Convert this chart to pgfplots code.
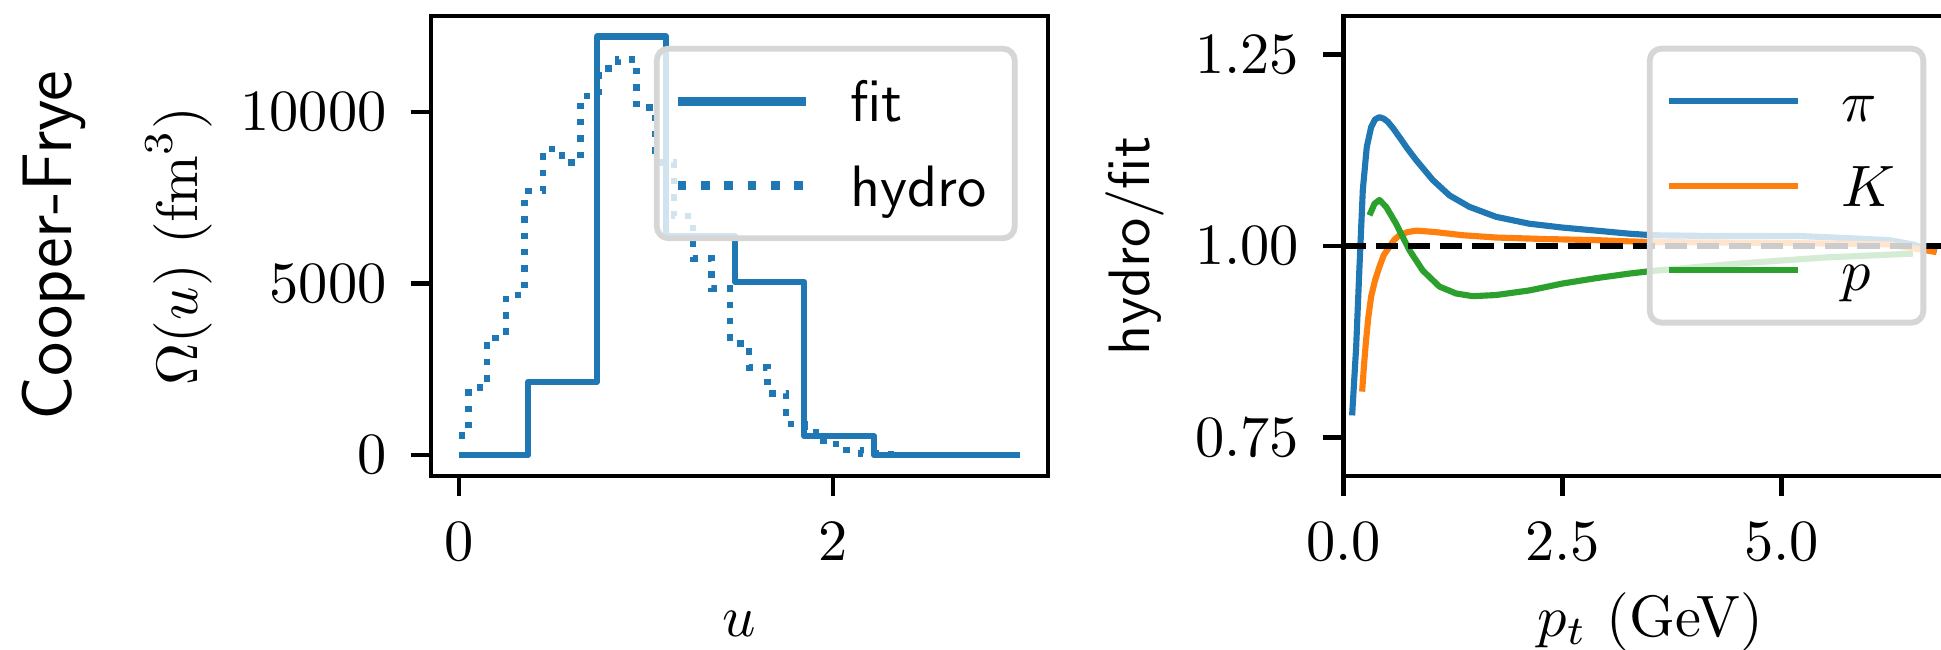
\documentclass[border=0pt]{standalone}
\usepackage{pgfplots}
\pgfplotsset{compat=1.18}
\definecolor{tabblue}{HTML}{1F77B4}
\definecolor{taborange}{HTML}{FF7F0E}
\definecolor{tabgreen}{HTML}{2CA02C}
\definecolor{legframe}{RGB}{214,214,214}

\pgfplotsset{
  every axis/.append style={
    scale only axis,
    axis line style={line width=0.8pt},
    every tick/.style={black, line width=0.8pt},
    tick align=outside,
    major tick length=3.5pt,
    tick pos=left,
    minor tick num=0,
    xticklabel style={yshift=-1pt},
    yticklabel style={xshift=-0.6pt},
    legend cell align=left,
    legend style={
      font=\sffamily,
      draw=legframe, line width=1pt, rounded corners=2pt,
      fill=white, fill opacity=0.8, text opacity=1,
      at={(1,1)}, anchor=north east, xshift=-5.2pt, yshift=-5.1pt,
      inner xsep=2.8pt, inner ysep=2.5pt,
      row sep=1.45pt,
      nodes={inner sep=2pt, text height=8pt, text depth=1pt},
    },
  }
}

\begin{document}
\begin{tikzpicture}
% ---------------- left panel ----------------
\begin{axis}[
  at={(73.79pt,29.79pt)}, anchor=south west,
  width=105.63pt, height=78.75pt,
  xmin=-0.15, xmax=3.15, ymin=-610, ymax=12800,
  xtick={0,2}, ytick={0,5000,10000},
  scaled y ticks=false,
  yticklabel={\pgfmathprintnumber[fixed,1000 sep={}]{\tick}},
  xlabel={$u$},
  ylabel={$\Omega(u)\ (\mathrm{fm}^3)$},
  xlabel style={at={(axis description cs:0.5,-0.348)}, anchor=base},
  ylabel style={at={(axis description cs:-0.3777,0.5)}, anchor=base},
]
\addplot[tabblue, line width=1.05pt, const plot, line join=round,
  legend image code/.code={\draw[tabblue, line width=1.5pt] (0pt,0pt) -- (22pt,0pt); \path (27pt,0pt);}]
  coordinates {(0,0) (0.37,2140) (0.738,12200) (1.108,6390) (1.477,5050) (1.847,554) (2.219,0) (3.0,0)};
\addlegendentry{fit}
\addplot[tabblue, line width=1.1pt, const plot, dash pattern=on 1.1pt off 1.7pt,
  legend image code/.code={\draw[tabblue, line width=1.5pt, dash pattern=on 1.5pt off 2.5pt] (0pt,0pt) -- (22pt,0pt); \path (27pt,0pt);}]
  coordinates {(0,574) (0.05,1963) (0.15,3420) (0.25,4673) (0.35,7697) (0.45,8921) (0.55,8534)
    (0.65,10466) (0.75,11274) (0.85,11535) (0.95,10134) (1.05,8523) (1.15,6968) (1.25,5734)
    (1.35,4860) (1.45,3256) (1.55,2556) (1.65,1798) (1.75,904) (1.85,679) (1.95,320) (2.05,146)
    (2.15,50) (2.25,15) (2.35,5) (2.45,0) (3.0,0)};
\addlegendentry{hydro}
\end{axis}

% ---------------- right panel ----------------
\begin{axis}[
  at={(230.0pt,29.79pt)}, anchor=south west,
  width=104.98pt, height=78.75pt,
  xmin=0, xmax=7, ymin=0.7, ymax=1.3,
  xtick={0,2.5,5}, ytick={0.75,1,1.25},
  xticklabel={\pgfmathprintnumber[fixed,fixed zerofill,precision=1]{\tick}},
  yticklabel={\pgfmathprintnumber[fixed,fixed zerofill,precision=2]{\tick}},
  xlabel={$p_t$ (GeV)},
  ylabel={\sffamily hydro/fit},
  xlabel style={at={(axis description cs:0.5,-0.348)}, anchor=base},
  ylabel style={at={(axis description cs:-0.317,0.5)}, anchor=base},
]
\addplot[tabblue, line width=1.05pt, line join=round,
  legend image code/.code={\draw[tabblue, line width=1pt] (0pt,0pt) -- (22pt,0pt); \path (27pt,0pt);}]
  coordinates {(0.099,0.779) (0.145,0.868) (0.183,0.973) (0.221,1.073) (0.266,1.129) (0.316,1.155)
    (0.36,1.165) (0.411,1.168) (0.46,1.166) (0.506,1.162) (0.57,1.153) (0.639,1.142) (0.73,1.127)
    (0.830,1.112) (1.02,1.086) (1.21,1.066) (1.438,1.051) (1.743,1.038) (2.123,1.029) (2.50,1.024)
    (2.885,1.020) (3.265,1.016) (3.53,1.014) (4.2,1.013) (5.2,1.013) (5.8,1.010) (6.23,1.0076)
    (6.5,1.002) (6.77,0.992)};
\addlegendentry{$\pi$}
\addplot[taborange, line width=1.05pt, line join=round,
  legend image code/.code={\draw[taborange, line width=1pt] (0pt,0pt) -- (22pt,0pt); \path (27pt,0pt);}]
  coordinates {(0.213,0.810) (0.235,0.845) (0.258,0.877) (0.285,0.908) (0.316,0.934) (0.36,0.955)
    (0.411,0.973) (0.46,0.988) (0.525,0.999) (0.58,1.008) (0.639,1.014) (0.73,1.018) (0.830,1.020)
    (0.95,1.019) (1.058,1.018) (1.362,1.014) (1.743,1.011) (2.314,1.009) (2.885,1.0076)
    (3.265,1.006) (3.53,1.005) (5.0,1.004) (6.23,1.002) (6.77,0.992)};
\addlegendentry{$K$}
\addplot[tabgreen, line width=1.05pt, line join=round,
  legend image code/.code={\draw[tabgreen, line width=1pt] (0pt,0pt) -- (22pt,0pt); \path (27pt,0pt);}]
  coordinates {(0.297,1.040) (0.354,1.055) (0.411,1.060) (0.487,1.051) (0.601,1.029) (0.753,0.9945)
    (0.905,0.968) (1.096,0.947) (1.286,0.938) (1.476,0.9345) (1.743,0.936) (2.123,0.942)
    (2.50,0.951) (2.885,0.958) (3.265,0.964) (3.53,0.9675) (4.5,0.977) (5.5,0.985) (6.5,0.990)};
\addlegendentry{$p$}
\addplot[black, line width=1pt, dash pattern=on 3.8pt off 1.7pt, forget plot]
  coordinates {(0,1) (7,1)};
\end{axis}

\node[rotate=90, anchor=base, font=\sffamily\fontsize{12}{14.4}\selectfont] at (12.3pt,69.2pt) {Cooper-Frye};

\pgfresetboundingbox
\useasboundingbox (0pt,0pt) rectangle (332.30pt,111.28pt);
\end{tikzpicture}
\end{document}
